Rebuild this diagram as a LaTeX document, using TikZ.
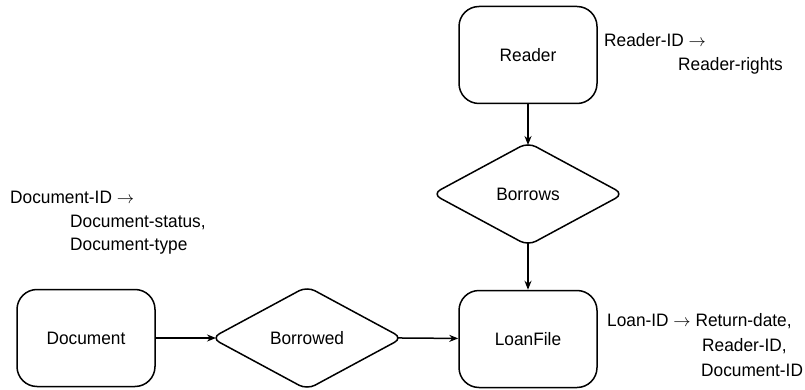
\documentclass[tikz,border=0pt]{standalone}
\usepackage{fontspec}
\setmainfont{Liberation Sans}[FakeStretch=0.96]
\usetikzlibrary{shapes.geometric,arrows.meta}
\tikzset{
  entity/.style={draw, line width=1.5pt, rounded corners=20pt,
    minimum width=138pt, minimum height=97pt, inner sep=0pt},
  relation/.style={draw, line width=1.5pt, diamond, rounded corners=9pt,
    minimum width=191pt, minimum height=103pt, inner sep=0pt, outer sep=0pt},
  link/.style={line width=1.5pt, -{Stealth[length=9pt,width=7pt]}},
  dep/.style={anchor=base west, inner sep=0pt}
}
\begin{document}
\begin{tikzpicture}[x=1pt,y=-1pt,font=\fontsize{18}{22}\selectfont]
\useasboundingbox (0,0) rectangle (805,390);
% entities and relationships
\node[entity]   (reader)   at (528,55)  {Reader};
\node[relation] (borrows)  at (528,194) {Borrows};
\node[entity]   (loanfile) at (528,339) {LoanFile};
\node[entity]   (document) at (86,338)  {Document};
\node[relation] (borrowed) at (307,338) {Borrowed};
% connectors: the diamond tips are rounded off, so the ends reach past the
% sharp anchors onto the curved outline
\draw[link, shorten >=-2.5pt] (reader) -- (borrows.north);
\draw[link, shorten <=-2.5pt] (borrows.south) -- (loanfile);
\draw[link, shorten >=-4.5pt] (document) -- (borrowed.west);
\draw[link, shorten <=-4.5pt] (borrowed.east) -- (loanfile);
% functional dependencies
\node[dep] (rd1) at (604,47)  {Reader-ID $\rightarrow$};
\node[dep] (rd2) at (678,71)  {Reader-rights};
\node[dep] (dc1) at (10,203)  {Document-ID $\rightarrow$};
\node[dep] (dc2) at (70,227)  {Document-status,};
\node[dep] (dc3) at (70,250)  {Document-type};
\node[dep] (ln1) at (607,326) {Loan-ID $\rightarrow$ Return-date,};
\node[dep] (ln2) at (702,351) {Reader-ID,};
\node[dep] (ln3) at (701,376) {Document-ID};
\end{tikzpicture}
\end{document}
